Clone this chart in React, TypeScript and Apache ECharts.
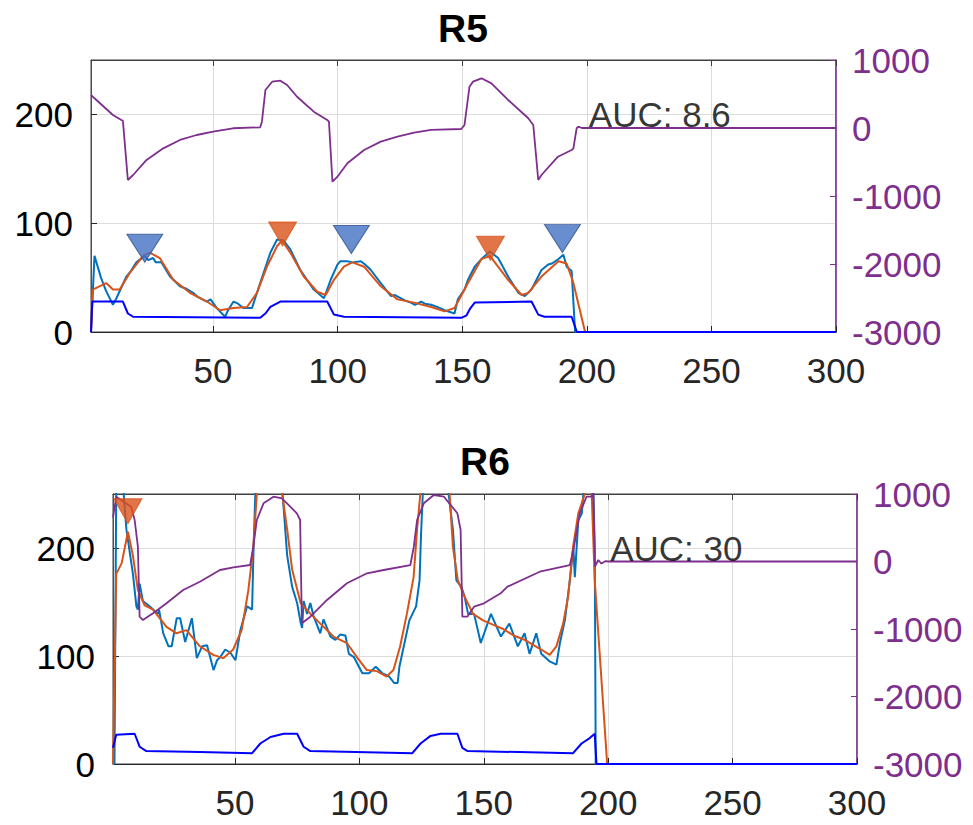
import React, { useEffect, useRef } from "react";
import * as echarts from "echarts";

// ---------- tick values ----------
const xTicks = [50, 100, 150, 200, 250, 300];
const leftTicks = [0, 100, 200];
const rightTicks = [-3000, -2000, -1000, 0, 1000];

// ---------- R5 ----------
const r5Raw = [[1,0],[2.4,70],[5,50],[7,38],[9.8,25],[11.2,31],[13,40],[15.2,51],[17,56],[19.2,64],[22.6,70],[24,66],[25.9,68],[27,64],[29.3,64],[32.7,51],[36.7,42],[39,40],[42,36],[44,32],[47.5,28],[49,30],[51.5,22],[54.8,14],[56,20],[58.2,28],[60,26],[62.2,22],[65.6,22],[68.9,45],[73,73],[75.7,85],[78.3,84],[81,76],[85,57],[90.4,39],[94.5,31],[97.2,48],[99.9,62],[101,65],[103.9,65],[106,64],[109.3,65],[111,62],[113.3,57],[117.3,45],[121.4,33],[123,34],[125.4,31],[127,29],[129.4,27],[131,25],[133.5,28],[135,26],[137.5,25],[140,23],[142.9,20],[146.9,17],[148.2,30],[150.9,39],[152.3,48],[155,60],[157.7,67],[161.1,74],[164.4,68],[168.4,51],[172.5,36],[175.1,33],[177.8,39],[181.8,57],[184.5,62],[186,63],[188.6,67],[190.6,71],[191.9,60],[193.9,56],[195.3,0],[300,0]];
const r5Smooth = [[1,0],[1.7,39],[4.4,42],[7.1,45],[9.8,39],[12.5,39],[16.5,54],[21.9,70],[24.6,73],[28.6,68],[34,48],[40.7,36],[47.5,28],[52.8,20],[58.2,22],[63.6,23],[67.6,36],[71.6,60],[75.7,79],[77.7,84],[81,73],[86.4,51],[91.8,37],[95.2,34],[98.5,48],[102.5,60],[105.9,64],[110.6,60],[117.3,42],[124,30],[130.7,27],[137.5,23],[142.9,19],[146.9,22],[152.3,45],[157.7,67],[161.1,70],[168.4,48],[173.8,34],[176.5,36],[181.8,51],[188.6,65],[191.9,63],[194.6,45],[199.3,0],[300,0]];
const r5Deriv = [[1,485],[2.4,437],[9.8,191],[13.2,118],[13.8,107],[15.8,-765],[17.9,-691],[23.3,-470],[30,-299],[36.7,-176],[43.4,-103],[50,-54],[58,-4],[68.9,10],[69.6,93],[71,559],[73.7,681],[77,696],[79.7,632],[83.7,460],[90.4,240],[95.8,118],[96.5,93],[97.9,-790],[99.9,-716],[103.9,-519],[110.6,-324],[117.3,-201],[124,-128],[130.7,-69],[137.5,-29],[149.6,-15],[150.9,44],[152.9,607],[154.3,681],[157.7,731],[161.7,657],[168.4,412],[176.5,143],[178.5,44],[180.5,-765],[181.8,-691],[188.4,-422],[193.9,-324],[194.6,-299],[195.9,-4],[196.6,19],[198,0],[300,0]];
const r5Base = [[1,0],[1.5,28],[13.8,28],[15.8,17],[17.9,14],[68.9,13],[71,17],[73,23],[77,28],[95.8,28],[98.5,16],[102.5,14],[149.6,13],[151.6,15],[153.3,22],[155,27],[177.8,28],[180.5,16],[183,14],[193.9,14],[196,0],[300,0]];
const r5PeaksBlue = [[22.6,77],[105.5,85],[190.2,86]];
const r5PeaksOrange = [[77.9,90],[161.3,77]];
const r5Auc = 8.6;

// ---------- R6 ----------
const r6Raw = [[1,0],[1.6,0],[2.3,255],[3.7,260],[5,258],[6.4,217],[9,176],[10.4,146],[11,143],[11.7,167],[13,151],[15.7,146],[19.1,139],[19.5,143],[21.2,121],[23.3,109],[24.6,109],[26.6,135],[28,135],[30,113],[32.7,135],[34.7,98],[36.8,109],[38.8,110],[41.4,87],[42.8,96],[44.1,99],[46.1,106],[48.2,103],[50.2,96],[52.2,124],[54.9,146],[56.9,143],[57.5,201],[58.2,250],[60,300],[67,300],[69,255],[71,193],[73,164],[75,149],[76.4,131],[77,126],[77.6,151],[79,139],[80.3,149],[81.6,137],[84.3,121],[85.6,134],[88.4,118],[90.4,115],[92.4,120],[94.4,119],[95.8,102],[97.8,99],[101.2,84],[103.9,84],[106.6,90],[109.3,84],[112,81],[114,75],[115.4,75],[116.1,90],[120.1,133],[122.8,146],[124.2,170],[124.8,213],[125.5,250],[127,300],[134,300],[135.6,255],[137.6,217],[139,170],[141,164],[142.3,155],[143.7,139],[145,139],[146.1,139],[148.8,112],[152.9,139],[156.9,118],[160.3,130],[163.7,109],[166.4,121],[168.4,102],[171.1,121],[173.1,102],[176.5,95],[179.2,92],[180.6,112],[182.6,133],[184.6,170],[186,201],[186.6,173],[188,226],[189.4,232],[190,250],[192,262],[194,258],[194.6,201],[195,0],[300,0]];
const r6Smooth = [[1,0],[2.3,176],[4.5,186],[7,215],[9,193],[11,161],[13.7,147],[17.1,143],[22.5,127],[26.5,121],[30.5,124],[35.9,109],[41.3,101],[45.3,98],[49.3,106],[52.7,124],[55.4,161],[57.4,201],[58.8,250],[62,300],[66,300],[69,250],[71,217],[73,180],[76.4,149],[80.4,139],[84.3,130],[89.6,118],[95,112],[99,99],[103,87],[107,86],[111,81],[113.7,87],[116.4,109],[119.1,139],[121.8,173],[123.2,217],[124.5,250],[127,300],[134,300],[136.3,250],[137.6,201],[139.6,170],[142.3,155],[145.7,139],[149.7,133],[153.7,129],[157.8,125],[162,119],[166.4,115],[173.1,106],[176.5,101],[179.2,109],[181.9,130],[183.9,155],[185.9,201],[188,232],[190.6,250],[192,262],[193.3,255],[194.6,170],[197.3,78],[199.6,0],[300,0]];
const r6Deriv = [[1,650],[2.3,960],[8.3,812],[9.7,615],[11,219],[11.7,-818],[13,-867],[17.1,-767],[22.5,-619],[29.2,-422],[35.9,-299],[44,-126],[49.4,-86],[56.1,-52],[57.4,219],[58.8,615],[61.5,862],[65.5,960],[68.9,936],[74.9,714],[76.2,615],[76.9,-916],[80.3,-818],[87,-570],[95,-323],[103.1,-175],[109.8,-126],[120.5,-52],[121.9,219],[123.2,615],[125.9,862],[129.9,985],[134,960],[139.4,714],[140.7,467],[141.4,-818],[143.4,-818],[146.1,-670],[150.1,-619],[156.8,-471],[159.5,-373],[172.5,-151],[184.6,-52],[186,170],[188.6,714],[191.3,960],[193.4,960],[194,1050],[194.7,-77],[196,22],[197.3,-30],[199,7],[200,0],[300,0]];
const r6Base = [[1,15],[2.3,27],[9.7,28],[11.7,16],[14.4,12],[35.9,11],[56.9,10],[60.2,19],[64.3,25],[69.6,28],[75,28],[77.6,16],[80.3,12],[121.3,10],[124.6,19],[128.6,26],[132.7,28],[139.4,28],[141.4,15],[143.5,12],[185.9,10],[189.3,19],[192.6,24],[194.6,28],[195.3,0],[300,0]];
const r6PeaksOrange = [[7,234]];
const r6Auc = 30;

const aucX = 201;

// ---------- styles ----------
const FONT = "'Liberation Sans', Arial, Helvetica, sans-serif";
const AXIS = "#262626";
const PURPLE = "#7E2F8E";
const CYAN = "#0072BD";
const ORANGE = "#D95319";
const BLUE = "#0000FF";
const GRIDC = "#dcdcdc";

const grids = [
  { left: 91, right: 137, top: 60, height: 272, show: true, borderColor: "#404040", borderWidth: 1, backgroundColor: "transparent" },
  { left: 113, right: 116, top: 494, height: 270, show: true, borderColor: "#404040", borderWidth: 1, backgroundColor: "transparent" },
];

function bottomX(gi: number) {
  return {
    type: "value", gridIndex: gi, min: 1, max: 300, position: "bottom",
    axisLine: { show: true, onZero: false, lineStyle: { color: AXIS, width: 1 } },
    axisTick: { show: true, inside: true, length: 6, customValues: xTicks, lineStyle: { color: AXIS } },
    axisLabel: { show: true, customValues: xTicks, fontSize: 35, fontFamily: FONT, color: AXIS, margin: 21 },
    splitLine: { show: true, lineStyle: { color: GRIDC, width: 1 } },
  };
}
function topX(gi: number) {
  return {
    type: "value", gridIndex: gi, min: 1, max: 300, position: "top",
    axisLine: { show: true, onZero: false, lineStyle: { color: "#404040", width: 1 } },
    axisTick: { show: true, inside: true, length: 6, customValues: xTicks, lineStyle: { color: "#404040" } },
    axisLabel: { show: false },
    splitLine: { show: false },
  };
}
function leftY(gi: number) {
  return {
    type: "value", gridIndex: gi, min: 0, max: 250, position: "left",
    axisLine: { show: true, onZero: false, lineStyle: { color: "#505050", width: 1 } },
    axisTick: { show: true, inside: true, length: 6, customValues: leftTicks, lineStyle: { color: AXIS } },
    axisLabel: { show: true, customValues: leftTicks, fontSize: 35, fontFamily: FONT, color: "#000", margin: 18 },
    splitLine: { show: true, lineStyle: { color: GRIDC, width: 1 } },
  };
}
function rightY(gi: number) {
  return {
    type: "value", gridIndex: gi, min: rightTicks[0], max: rightTicks[rightTicks.length - 1], interval: 1000, position: "right",
    axisLine: { show: true, onZero: false, lineStyle: { color: PURPLE, width: 1.5 } },
    axisTick: { show: true, inside: true, length: 6, lineStyle: { color: PURPLE } },
    axisLabel: { show: true, fontSize: 35, fontFamily: FONT, color: PURPLE, margin: 16, formatter: (v: number) => String(v) },
    splitLine: { show: false },
  };
}

function lineSeries(data: number[][], xi: number, yi: number, color: string, width: number, z: number) {
  return {
    type: "line", xAxisIndex: xi, yAxisIndex: yi, data, symbol: "none", clip: true,
    lineStyle: { color, width }, itemStyle: { color }, z,
  };
}
function peakSeries(data: number[][], xi: number, yi: number, color: string, border: string, size: number[]) {
  return {
    type: "scatter", xAxisIndex: xi, yAxisIndex: yi, data, symbol: "triangle", symbolRotate: 180,
    symbolSize: size, itemStyle: { color, borderColor: border, borderWidth: 1 }, z: 10,
  };
}
function aucSeries(value: number, xi: number, yi: number) {
  return {
    type: "scatter", xAxisIndex: xi, yAxisIndex: yi, data: [[aucX, 0]], symbolSize: 1,
    itemStyle: { color: "rgba(0,0,0,0)" }, z: 11,
    label: {
      show: true, position: [0, -13], align: "left", verticalAlign: "middle",
      formatter: "AUC: " + value, fontSize: 35, fontFamily: FONT, color: "#000",
    },
  };
}

const option = {
  animation: false,
  backgroundColor: "#ffffff",
  grid: grids,
  xAxis: [bottomX(0), topX(0), bottomX(1), topX(1)],
  yAxis: [leftY(0), rightY(0), leftY(1), rightY(1)],
  graphic: [
    { type: "text", x: 463, y: 28, style: { text: "R5", fontSize: 39, fontWeight: "bold", fontFamily: FONT, fill: "#000", textAlign: "center", textVerticalAlign: "middle" } },
    { type: "text", x: 485, y: 461, style: { text: "R6", fontSize: 39, fontWeight: "bold", fontFamily: FONT, fill: "#000", textAlign: "center", textVerticalAlign: "middle" } },
  ],
  series: [
    lineSeries(r5Raw, 0, 0, CYAN, 2, 2),
    lineSeries(r5Smooth, 0, 0, ORANGE, 2, 3),
    lineSeries(r5Base, 0, 0, BLUE, 2, 4),
    lineSeries(r5Deriv, 0, 1, PURPLE, 1.8, 5),
    peakSeries(r5PeaksBlue, 0, 0, "#4472C4", "#2F528F", [36, 28]),
    peakSeries(r5PeaksOrange, 0, 0, ORANGE, ORANGE, [28, 24]),
    aucSeries(r5Auc, 0, 1),

    lineSeries(r6Raw, 2, 2, CYAN, 2, 2),
    lineSeries(r6Smooth, 2, 2, ORANGE, 2, 3),
    lineSeries(r6Base, 2, 2, BLUE, 2, 4),
    lineSeries(r6Deriv, 2, 3, PURPLE, 1.8, 5),
    peakSeries(r6PeaksOrange, 2, 2, ORANGE, ORANGE, [28, 25]),
    aucSeries(r6Auc, 2, 3),
  ],
};

export default function App() {
  const ref = useRef<HTMLDivElement>(null);
  useEffect(() => {
    if (!ref.current) return;
    const chart = echarts.init(ref.current, null, { renderer: "svg" });
    chart.setOption(option as any);
    return () => chart.dispose();
  }, []);
  return <div ref={ref} style={{ position: "absolute", left: 0, top: 0, width: 973, height: 825 }} />;
}
